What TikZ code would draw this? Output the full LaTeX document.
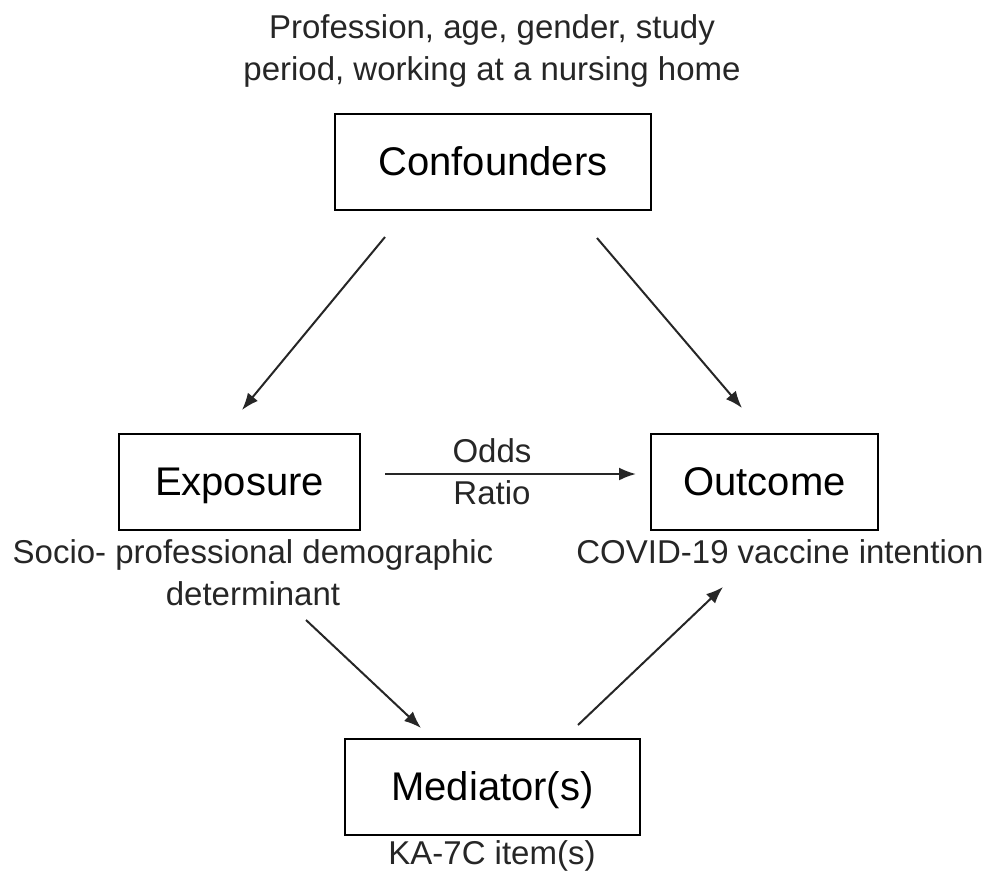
\documentclass[tikz,border=0pt]{standalone}
\usepackage{fontspec}
\setmainfont{Liberation Sans}
\usetikzlibrary{arrows.meta}
\begin{document}
\begin{tikzpicture}[x=1pt,y=-1pt,
  box/.style={draw, line width=2pt, minimum width=#1, minimum height=96pt, inner sep=0pt, text height=31pt, text depth=5pt, font=\fontsize{40}{48}\selectfont},
  lbl/.style={inner sep=0pt, align=center, font=\fontsize{33}{42}\selectfont, text=black!85},
  arr/.style={line width=2pt, -{Latex[length=17pt,width=13pt]}, draw=black!85}]
\useasboundingbox (0,0) rectangle (989,871);
\node[box=316pt] (conf) at (493,162) {Confounders};
\node[box=241pt] (expo) at (239.5,482) {Exposure};
\node[box=227pt] (outc) at (764.5,482) {Outcome};
\node[box=295pt] (medi) at (492.5,787) {Mediator(s)};
\node[lbl] (conftxt) at (492,51) {Profession, age, gender, study\\period, working at a nursing home};
\node[lbl] (expotxt) at (253,573) {Socio- professional demographic\\determinant};
\node[lbl] (outctxt) at (780,552) {COVID-19 vaccine intention};
\node[lbl] (medtxt) at (492,856) {KA-7C item(s)};
\node[lbl] (odds) at (492,472) {Odds\\Ratio};
\coordinate (c1s) at (385,237);
\coordinate (c1e) at (242,410);
\coordinate (c2s) at (597,238);
\coordinate (c2e) at (742,408);
\coordinate (eos) at (385,474);
\coordinate (eoe) at (636,474);
\coordinate (ems) at (306,620);
\coordinate (eme) at (421,728);
\coordinate (mos) at (578,725);
\coordinate (moe) at (723,587);
\draw[arr] (c1s) -- (c1e);
\draw[arr] (c2s) -- (c2e);
\draw[arr] (eos) -- (eoe);
\draw[arr] (ems) -- (eme);
\draw[arr] (mos) -- (moe);
\end{tikzpicture}
\end{document}
